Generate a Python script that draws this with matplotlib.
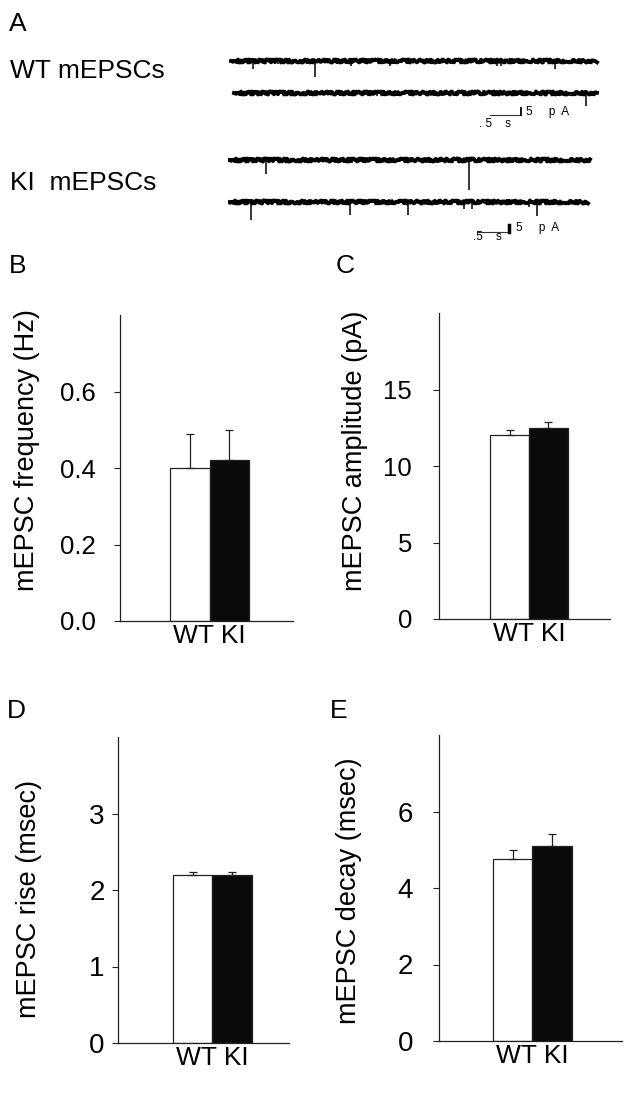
import matplotlib
matplotlib.use('Agg')
import matplotlib.pyplot as plt

plt.rcParams['font.family'] = ['Liberation Sans', 'DejaVu Sans']

# bar data (mean, sem)
groups = ['WT', 'KI']
freq_mean = [0.40, 0.42]
freq_sem = [0.09, 0.08]
amp_mean = [12.0, 12.5]
amp_sem = [0.37, 0.38]
rise_mean = [2.20, 2.19]
rise_sem = [0.04, 0.05]
decay_mean = [4.75, 5.10]
decay_sem = [0.25, 0.30]

# example traces: recording span (s) and mEPSC events (time s, amplitude pA)
wt1_span = [0.05, 5.95]
wt1_events = [(0.41, 6.0), (0.80, 2.0), (1.40, 12.5), (1.99, 3.5), (2.61, 3.5),
              (3.30, 2.0), (4.34, 3.5), (4.40, 3.5), (4.95, 2.0), (5.28, 6.0)]
wt2_span = [0.10, 5.95]
wt2_events = [(1.21, 2.5), (2.40, 2.0), (3.20, 2.0), (4.90, 2.5), (5.77, 10.0)]
ki1_span = [0.02, 5.84]
ki1_events = [(0.62, 11.0), (1.08, 2.5), (2.00, 2.0), (3.20, 2.0), (3.88, 23.0), (4.60, 2.5)]
ki2_span = [0.0, 5.81]
ki2_events = [(0.37, 14.0), (1.96, 10.0), (2.90, 10.0), (3.81, 5.0), (3.94, 5.0),
              (4.86, 4.0), (4.99, 11.0)]

W, H = 633, 1093
fig = plt.figure(figsize=(W / 100, H / 100), dpi=100)


def px_rect(left, top, right, bottom):
    return [left / W, 1 - bottom / H, (right - left) / W, (bottom - top) / H]


# Panel A - traces
##################
axA = fig.add_axes(px_rect(228, 45, 600, 250))
axA.set_xlim(0, 6)
axA.set_ylim(-157.7, 0)
axA.axis('off')

offsets = [-12.3, -36.9, -88.5, -120.8]
for (span, ev), off in zip([(wt1_span, wt1_events), (wt2_span, wt2_events),
                            (ki1_span, ki1_events), (ki2_span, ki2_events)], offsets):
    ln, = axA.plot(span, [off, off], color='black', lw=2.8)
    ln.set_sketch_params(1.5, 0.7, 3.0)
    ts = [e[0] for e in ev]
    amps = [e[1] for e in ev]
    axA.vlines(ts, [off - a for a in amps], off, color='black', lw=1.1)

# scale bars: 0.5 s, 5 pA
axA.plot([4.23, 4.73], [-53.8, -53.8], color='#333333', lw=0.8)
axA.plot([4.73, 4.73], [-53.8, -48.8], color='black', lw=1.3)
axA.text(4.80, -51.5, '5     p  A', fontsize=8.5, va='center', ha='left')
axA.text(4.05, -60.5, '. 5    s', fontsize=8.5, va='center', ha='left')

axA.plot([4.03, 4.53], [-143.8, -143.8], color='#333333', lw=0.8)
axA.plot([4.53, 4.53], [-143.8, -138.8], color='black', lw=2.5)
axA.text(4.64, -140.5, '5     p  A', fontsize=8.5, va='center', ha='left')
axA.text(3.95, -147.5, '.5    s', fontsize=8.5, va='center', ha='left')

fig.text(10 / W, 1 - 78 / H, 'WT mEPSCs', fontsize=19, va='baseline', ha='left')
fig.text(10 / W, 1 - 190 / H, 'KI  mEPSCs', fontsize=19, va='baseline', ha='left')

# panel letters
for letter, x, y in [('A', 9, 31), ('B', 9, 273), ('C', 336, 273), ('D', 7, 718), ('E', 330, 718)]:
    fig.text(x / W, 1 - y / H, letter, fontsize=19, va='baseline', ha='left')


def bar_panel(rect, means, sems, ylim, ticks, fmt, ylabel, xlim, label_xy, pad, tsize):
    ax = fig.add_axes(rect)
    ax.bar([0, 1], means, width=1.0, color=['white', '#0a0a0a'],
           edgecolor='#222222', linewidth=0.9, zorder=2)
    ax.errorbar([0, 1], means, yerr=[[0, 0], sems], fmt='none', ecolor='#222222',
                elinewidth=0.9, capsize=3.2, capthick=0.9, zorder=3)
    ax.set_xlim(*xlim)
    ax.set_ylim(*ylim)
    ax.set_yticks(ticks)
    ax.set_yticklabels([fmt.format(t) for t in ticks])
    ax.set_xticks([0.5])
    ax.set_xticklabels([' '.join(groups)], fontsize=19)
    ax.tick_params(axis='x', length=0, pad=2)
    ax.tick_params(axis='y', direction='out', length=4.5, width=0.8,
                   pad=pad, labelsize=tsize, color='#222222')
    for s in ['top', 'right']:
        ax.spines[s].set_visible(False)
    for s in ['left', 'bottom']:
        ax.spines[s].set_linewidth(0.9)
        ax.spines[s].set_color('#222222')
    ax.set_ylabel(ylabel, fontsize=19.5)
    ax.yaxis.set_label_coords(*label_xy)
    return ax


bar_panel(px_rect(120, 315, 293, 621), freq_mean, freq_sem, (0, 0.8), [0, 0.2, 0.4, 0.6],
          '{:.1f}', 'mEPSC frequency (Hz)', (-1.77, 2.61), (-0.46, 0.56), 13, 18.5)
bar_panel(px_rect(439, 313, 610, 619), amp_mean, amp_sem, (0, 20), [0, 5, 10, 15],
          '{:d}', 'mEPSC amplitude (pA)', (-1.81, 2.58), (-0.415, 0.55), 15, 18.5)
bar_panel(px_rect(118, 737, 289, 1043), rise_mean, rise_sem, (0, 4), [0, 1, 2, 3],
          '{:d}', 'mEPSC rise (msec)', (-1.89, 2.44), (-0.444, 0.47), 5, 20)
bar_panel(px_rect(439, 735, 622, 1041), decay_mean, decay_sem, (0, 8), [0, 2, 4, 6],
          '{:d}', 'mEPSC decay (msec)', (-1.87, 2.77), (-0.42, 0.49), 14, 20)

fig.savefig('out.png', dpi=100, facecolor='white')
